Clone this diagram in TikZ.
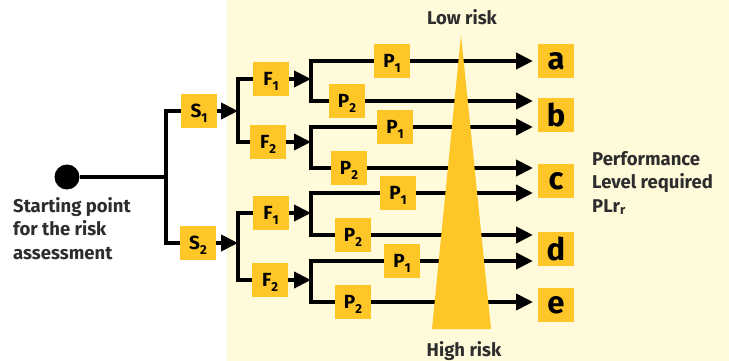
\documentclass[tikz,border=0pt]{standalone}
\usepackage{fontspec}
\setmainfont{Fira Sans}
\usetikzlibrary{arrows.meta}
\definecolor{boxgold}{RGB}{254,198,38}
\definecolor{cream}{RGB}{255,250,217}
\definecolor{captiongray}{RGB}{45,45,45}
\newcommand{\idx}[1]{\raisebox{-5pt}{\fontsize{13pt}{13pt}\selectfont #1}}
\tikzset{%
  tile/.style={
    fill=boxgold,
    minimum width=36pt,
    minimum height=34pt,
    inner sep=0pt
  },
  riskbox/.style={
    tile,
    text height=13pt,
    text depth=0pt,
    font=\fontsize{19pt}{19pt}\selectfont\bfseries
  },
  levelbox/.style={
    tile,
    font=\fontsize{31pt}{31pt}\selectfont\bfseries
  },
  branch/.style={
    line width=4pt
  },
  flow/.style={
    branch,
    -{Triangle[length=17pt, width=16pt]}
  },
  caption/.style={
    text=captiongray,
    align=left,
    inner sep=0pt,
    font=\fontsize{18.5pt}{23.5pt}\selectfont\bfseries
  }
}

\begin{document}
\begin{tikzpicture}[x=1pt, y=-1pt]
  \useasboundingbox (0,0) rectangle (729,361);
  % background
  \fill[white] (0,0) rectangle (729,361);
  \fill[cream] (227,0) rectangle (729,361);
  % starting point
  \node[circle, fill=black, minimum size=25pt, inner sep=0pt] (start) at (67,177) {};
  \coordinate (j0) at (166,177);
  \node[caption, anchor=north west] (startlabel) at (13,197) {Starting point\\for the risk\\assessment};
  % severity
  \node[riskbox] (s1) at (199,111) {S\idx{1}};
  \node[riskbox] (s2) at (198,243) {S\idx{2}};
  \coordinate (js1) at (238,111);
  \coordinate (js2) at (238,243);
  % frequency
  \node[riskbox] (f11) at (271,79) {F\idx{1}};
  \node[riskbox] (f12) at (268,142) {F\idx{2}};
  \node[riskbox] (f21) at (271,213) {F\idx{1}};
  \node[riskbox] (f22) at (270,280) {F\idx{2}};
  \coordinate (jf11) at (311,79);
  \coordinate (jf12) at (311,142);
  \coordinate (jf21) at (311,213);
  \coordinate (jf22) at (311,280);
  % possibility of avoidance
  \node[riskbox] (p11) at (392,61) {P\idx{1}};
  \node[riskbox] (p12) at (347,101) {P\idx{2}};
  \node[riskbox] (p21) at (395,127) {P\idx{1}};
  \node[riskbox] (p22) at (349,168) {P\idx{2}};
  \node[riskbox] (p31) at (398,193) {P\idx{1}};
  \node[riskbox] (p32) at (353,235) {P\idx{2}};
  \node[riskbox] (p41) at (402,261) {P\idx{1}};
  \node[riskbox] (p42) at (353,302) {P\idx{2}};
  % arrow ends
  \coordinate (e1) at (533,61);
  \coordinate (e2) at (533,101);
  \coordinate (e3) at (533,127);
  \coordinate (e4) at (533,168);
  \coordinate (e5) at (533,193);
  \coordinate (e6) at (533,235);
  \coordinate (e7) at (533,261);
  \coordinate (e8) at (533,302);
  % performance levels
  \node[levelbox] (pla) at (556,61) {a};
  \node[levelbox] (plb) at (556,115) {b};
  \node[levelbox] (plc) at (556,181) {c};
  \node[levelbox] (pld) at (556,249) {d};
  \node[levelbox] (ple) at (556,305) {e};
  \node[caption, anchor=north west] (plr) at (592,151) {Performance\\Level required\\PLr\textsubscript{r}};
  % starting point connections
  \draw[branch] (start) -- (j0);
  \draw[branch] (s1) -| (j0) |- (s2);
  \draw[flow] (s1) -- (js1);
  \draw[flow] (s2) -- (js2);
  % severity connections
  \draw[branch] (f11) -| (js1) |- (f12);
  \draw[branch] (f21) -| (js2) |- (f22);
  \draw[flow] (f11) -- (jf11);
  \draw[flow] (f12) -- (jf12);
  \draw[flow] (f21) -- (jf21);
  \draw[flow] (f22) -- (jf22);
  % frequency connections
  \draw[branch] (p11) -| (jf11) |- (p12);
  \draw[branch] (p21) -| (jf12) |- (p22);
  \draw[branch] (p31) -| (jf21) |- (p32);
  \draw[branch] (p41) -| (jf22) |- (p42);
  % possibility connections
  \draw[flow] (p11) -- (e1);
  \draw[flow] (p12) -- (e2);
  \draw[flow] (p21) -- (e3);
  \draw[flow] (p22) -- (e4);
  \draw[flow] (p31) -- (e5);
  \draw[flow] (p32) -- (e6);
  \draw[flow] (p41) -- (e7);
  \draw[flow] (p42) -- (e8);
  % risk wedge
  \fill[boxgold] (432,329) -- (461,35) -- (491,329) -- cycle;
  \node[caption, anchor=base] (low) at (462,25) {Low risk};
  \node[caption, anchor=base] (high) at (464,356) {High risk};
\end{tikzpicture}
\end{document}
